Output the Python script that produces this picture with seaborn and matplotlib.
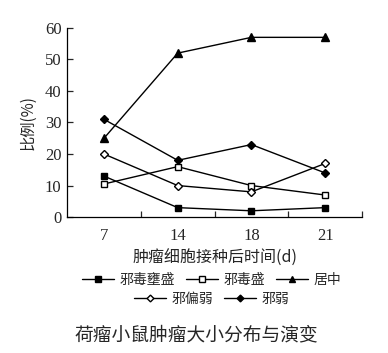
import numpy as np
import pandas as pd
import matplotlib
matplotlib.use("Agg")
import matplotlib.pyplot as plt
import seaborn as sns

# data
days = ["7", "14", "18", "21"]
yongsheng = [13, 3, 2, 3]        # 邪毒壅盛
dusheng = [10.5, 16, 10, 7]      # 邪毒盛
juzhong = [25, 52, 57, 57]       # 居中
pianruo = [20, 10, 8, 17]        # 邪偏弱
xieruo = [31, 18, 23, 14]        # 邪弱
names = ["邪毒壅盛", "邪毒盛", "居中", "邪偏弱", "邪弱"]

sns.set_theme(style="ticks")
plt.rcParams['font.family'] = ['Liberation Serif', 'Noto Sans CJK SC', 'DejaVu Sans']
plt.rcParams['axes.unicode_minus'] = False

fig = plt.figure(figsize=(3.88, 3.53), dpi=100)
ax = fig.add_axes([0.173, 0.385, 0.76, 0.536])

pos = np.arange(len(days))
series = [yongsheng, dusheng, juzhong, pianruo, xieruo]
styles = [
    dict(marker='s', mfc='black', ms=5),
    dict(marker='s', mfc='white', ms=5),
    dict(marker='^', mfc='black', ms=6),
    dict(marker='D', mfc='white', ms=4.3),
    dict(marker='D', mfc='black', ms=4.3),
]
handles = []
for vals, name, st in zip(series, names, styles):
    df = pd.DataFrame({'x': pos, 'y': vals})
    sns.lineplot(data=df, x='x', y='y', ax=ax, color='black', lw=1.0,
                 marker=st['marker'], markersize=st['ms'],
                 markerfacecolor=st['mfc'], markeredgecolor='black',
                 markeredgewidth=1.0)
    handles.append(ax.lines[-1])

ax.set_xlim(-0.5, 3.5)
ax.set_ylim(0, 60)
ax.set_yticks(range(0, 61, 10))
ax.set_xticks(pos)
ax.set_xticklabels(days)
ax.set_xticks(pos + 0.5, minor=True)
ax.tick_params(axis='x', which='major', length=0, pad=8, labelsize=12)
ax.tick_params(axis='x', which='minor', direction='in', length=4, width=0.9)
ax.tick_params(axis='y', direction='in', length=4, width=0.9, labelsize=12, pad=4)
for s in ['top', 'right']:
    ax.spines[s].set_visible(False)
for s in ['left', 'bottom']:
    ax.spines[s].set_linewidth(0.9)
    ax.spines[s].set_color('black')

ax.set_xlabel('肿瘤细胞接种后时间(d)', fontsize=11.5,
              family=['Noto Sans CJK SC', 'Liberation Serif'], labelpad=4)
ax.set_ylabel('比例(%)', fontsize=11,
              family=['Noto Sans CJK SC', 'Liberation Serif'], labelpad=6)

leg_font = dict(family=['Noto Sans CJK SC'], size=10)
leg1 = fig.legend(handles[:3], names[:3], loc='center', bbox_to_anchor=(0.545, 0.207),
                  ncol=3, frameon=False, prop=leg_font, handlelength=2.3,
                  handletextpad=0.4, columnspacing=0.8, markerscale=0.8)
leg2 = fig.legend(handles[3:], names[3:], loc='center', bbox_to_anchor=(0.545, 0.153),
                  ncol=2, frameon=False, prop=leg_font, handlelength=2.3,
                  handletextpad=0.4, columnspacing=0.8, markerscale=0.8)

fig.text(0.505, 0.05, '荷瘤小鼠肿瘤大小分布与演变', ha='center', va='center',
         fontsize=13.5, family=['Noto Sans CJK SC'])

fig.savefig('out.png', dpi=100)
